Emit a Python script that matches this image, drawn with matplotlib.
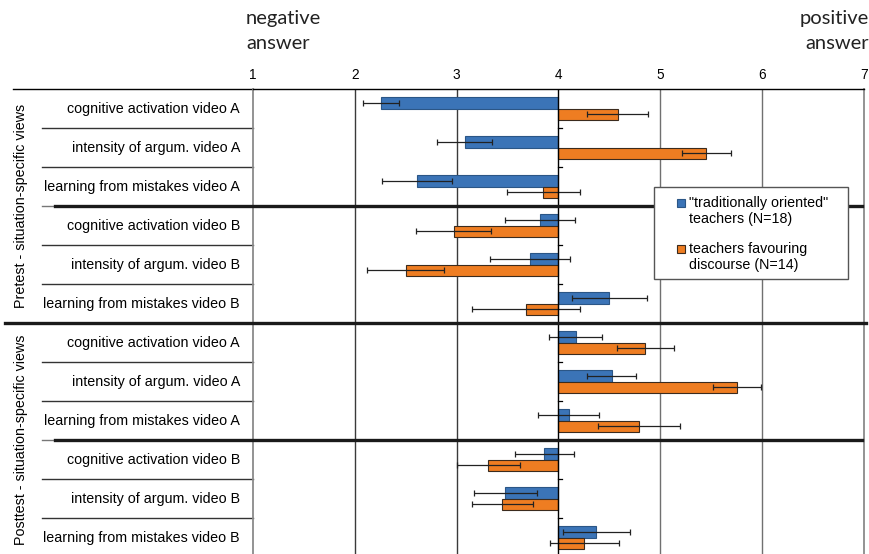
import matplotlib

matplotlib.use("Agg")
import matplotlib.pyplot as plt  # noqa: E402
import matplotlib.transforms as mtransforms  # noqa: E402
from matplotlib.patches import Rectangle  # noqa: E402
import numpy as np  # noqa: E402

# ------------------------------------------------------------------ data
items = [
    "cognitive activation video A",
    "intensity of argum. video A",
    "learning from mistakes video A",
    "cognitive activation video B",
    "intensity of argum. video B",
    "learning from mistakes video B",
]
phases = ["Pretest - situation-specific views", "Posttest - situation-specific views"]
row_labels = items + items

# pretest rows first, then posttest rows
traditional_mean = [2.26, 3.08, 2.61, 3.82, 3.72, 4.50,
                    4.17, 4.52, 4.10, 3.86, 3.48, 4.37]
traditional_err = [0.18, 0.27, 0.345, 0.34, 0.39, 0.37,
                   0.26, 0.245, 0.30, 0.29, 0.31, 0.33]
discourse_mean = [4.58, 5.45, 3.85, 2.97, 2.50, 3.68,
                  4.85, 5.755, 4.79, 3.31, 3.45, 4.255]
discourse_err = [0.30, 0.24, 0.36, 0.37, 0.375, 0.53,
                 0.28, 0.235, 0.40, 0.31, 0.30, 0.335]

legend_labels = ['"traditionally oriented"\nteachers (N=18)',
                 "teachers favouring\ndiscourse (N=14)"]
scale_ticks = [1, 2, 3, 4, 5, 6, 7]
midpoint = 4

BLUE = "#3b74b7"
BLUE_EDGE = "#2b5686"
ORANGE = "#ee7d22"
ORANGE_EDGE = "#3b2b1e"

plt.rcParams["font.family"] = ["Liberation Sans", "DejaVu Sans"]

W, H = 870, 554
fig = plt.figure(figsize=(W / 100, H / 100), dpi=100)
left, right, top, bottom = 252.7, 864.3, 89.3, 557.3
ax = fig.add_axes([left / W, 1 - bottom / H, (right - left) / W, (bottom - top) / H])
trans = mtransforms.blended_transform_factory(ax.transAxes, ax.transData)

n = len(row_labels)
y = np.arange(n) + 0.5
h = 0.29
t_mean = np.array(traditional_mean)
d_mean = np.array(discourse_mean)

ax.barh(y - h / 2, t_mean - midpoint, left=midpoint, height=h, color=BLUE,
        edgecolor=BLUE_EDGE, linewidth=0.8, zorder=3)
ax.barh(y + h / 2, d_mean - midpoint, left=midpoint, height=h, color=ORANGE,
        edgecolor=ORANGE_EDGE, linewidth=0.8, zorder=3)
ax.errorbar(t_mean, y - h / 2, xerr=traditional_err, fmt="none", ecolor="#222222",
            elinewidth=0.9, capsize=2.2, capthick=0.9, zorder=4)
ax.errorbar(d_mean, y + h / 2, xerr=discourse_err, fmt="none", ecolor="#222222",
            elinewidth=0.9, capsize=2.2, capthick=0.9, zorder=4)

ax.set_xlim(scale_ticks[0], scale_ticks[-1])
ax.set_ylim(n, 0)
ax.xaxis.tick_top()
ax.set_xticks(scale_ticks)
ax.tick_params(axis="x", length=0, pad=5, labelsize=9.8)
ax.set_yticks([])

ax.spines["top"].set_color("black")
ax.spines["top"].set_linewidth(1.0)
ax.spines["bottom"].set_visible(False)
for side in ("left", "right"):
    ax.spines[side].set_color("#8a8a8a")
    ax.spines[side].set_linewidth(1.3)

# vertical grid and the category axis at the scale midpoint
for t in scale_ticks[1:-1]:
    if t == midpoint:
        continue
    ax.axvline(t, color="#3a3a3a" if t < midpoint else "#707070", lw=1.0, zorder=1)
ax.axvline(midpoint, color="black", lw=1.0, zorder=5)
for b in range(1, n):
    ax.plot([midpoint, midpoint + 0.03], [b, b], color="black", lw=0.9, zorder=5)

# top rule reaches over the label column
ax.plot([-0.392, 0], [0, 0], transform=trans, clip_on=False, color="black", lw=1.0)

# row separators in the label column and thick block separators
for b in range(1, n):
    if b % 3:
        ax.plot([-0.3445, 0], [b, b], transform=trans, clip_on=False,
                color="#333333", lw=1.0)
for b in (3, 9):
    ax.plot([-0.3445, -0.3233], [b, b], transform=trans, clip_on=False,
            color="#777777", lw=1.0)
    ax.plot([-0.3233, 0.9962], [b, b], transform=trans, clip_on=False,
            color="#1a1a1a", lw=2.4, zorder=6)
ax.plot([-0.405, 1.0027], [6, 6], transform=trans, clip_on=False,
        color="#1a1a1a", lw=2.4, zorder=6)

for yi, label in zip(y, row_labels):
    ax.text(-0.0208, yi, label, transform=trans, ha="right", va="center",
            fontsize=10.3)
for k, phase in enumerate(phases):
    ax.text(-0.379, 3 + 6 * k, phase, transform=trans, rotation=90,
            ha="center", va="center", fontsize=10.3)

# scale end captions
fig.text(246 / W, 1 - 31 / H, "negative\nanswer", ha="left", va="center",
         family="Lato", fontsize=14.5, linespacing=1.55, color="#222222")
fig.text(869 / W, 1 - 31 / H, "positive\nanswer", ha="right", va="center",
         multialignment="right", family="Lato", fontsize=14.5, linespacing=1.55,
         color="#222222")

# legend box
ax.add_patch(Rectangle((0.656, 0.594), 0.317, 0.197, transform=ax.transAxes,
                       facecolor="white", edgecolor="#555555", lw=1.0,
                       zorder=10, clip_on=False))
for label, color, edge, ty, my in zip(legend_labels, (BLUE, ORANGE),
                                      (BLUE_EDGE, ORANGE_EDGE),
                                      (0.740, 0.6413), (0.7577, 0.658)):
    ax.plot(0.700, my, marker="s", ms=5.8, color=color, mec=edge, mew=0.8,
            transform=ax.transAxes, clip_on=False, zorder=11)
    ax.text(0.713, ty, label, transform=ax.transAxes, ha="left", va="center",
            fontsize=10.3, linespacing=1.15, zorder=11)

fig.savefig("out.png", dpi=100)
